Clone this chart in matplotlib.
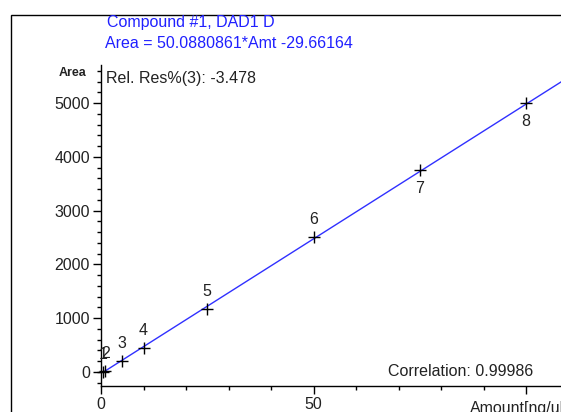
import matplotlib
matplotlib.use("Agg")
import matplotlib.pyplot as plt
import numpy as np
from matplotlib.patches import Rectangle
from matplotlib.ticker import MultipleLocator

# calibration levels
level_ids = ["1", "2", "3", "4", "5", "6", "7", "8"]
amounts = [0.5, 1.0, 5.0, 10.0, 25.0, 50.0, 75.0, 100.0]
areas = [-4.0, 21.0, 213.0, 440.0, 1171.0, 2509.0, 3755.0, 4992.0]
label_side = ["above"] * 6 + ["below"] * 2

slope = 50.0880861
intercept = -29.66164

W, H = 561, 412
FS = 11.5
plt.rcParams["font.family"] = ["Liberation Sans", "DejaVu Sans"]
fig = plt.figure(figsize=(W / 100, H / 100), dpi=100)

def px(x0, y0, x1, y1):
    # pixel box -> figure fraction [left, bottom, width, height]
    return [x0 / W, 1 - y1 / H, (x1 - x0) / W, (y1 - y0) / H]

ax = fig.add_axes(px(101, 65, 568.5, 386))
ax.set_xlim(0, 110)
ax.set_ylim(-260, 5707)

for s in ["top", "right"]:
    ax.spines[s].set_visible(False)
for s in ["left", "bottom"]:
    ax.spines[s].set_linewidth(1.0)
    ax.spines[s].set_color("black")

ax.xaxis.set_major_locator(MultipleLocator(50))
ax.xaxis.set_minor_locator(MultipleLocator(10))
ax.yaxis.set_major_locator(MultipleLocator(1000))
ax.yaxis.set_minor_locator(MultipleLocator(200))
ax.tick_params(which="major", direction="out", length=6, width=1,
               labelsize=FS, labelcolor="#222222", pad=2)
ax.tick_params(which="minor", direction="out", length=3, width=1)
ax.set_xticks([0, 50, 100])
ax.set_xticklabels(["0", "50", ""])

# fit line
xf = np.array([amounts[0], 110])
ax.plot(xf, slope * xf + intercept, color="#3030ff", lw=1.0, clip_on=False)

# calibration points
ax.plot(amounts, areas, ls="none", marker="+", ms=9, mew=1.0, color="black",
        clip_on=False, zorder=3)
for lid, a, r, side in zip(level_ids, amounts, areas, label_side):
    dy = 12.5 if side == "above" else -13
    ax.annotate(lid, (a, r), xytext=(0, dy), textcoords="offset points",
                ha="center", va="center", fontsize=FS, color="#222222")

ax.text(0.925, 0.045, "Correlation: 0.99986", transform=ax.transAxes,
        ha="right", va="center", fontsize=FS, color="#222222")

# header texts
fig.text(107 / W, 1 - 23 / H, "Compound #1, DAD1 D", fontsize=FS,
         color="#2020ff", va="center", ha="left")
fig.text(105 / W, 1 - 44 / H, "Area = 50.0880861*Amt -29.66164", fontsize=FS,
         color="#2020ff", va="center", ha="left")
fig.text(106 / W, 1 - 78 / H, "Rel. Res%(3): -3.478", fontsize=FS,
         color="#222222", va="center", ha="left")
fig.text(86 / W, 1 - 73 / H, "Area", fontsize=9, fontweight="bold",
         color="#222222", va="center", ha="right")
fig.text(470 / W, 1 - 408 / H, "Amount[ng/ul]", fontsize=FS,
         color="#222222", va="center", ha="left")

# outer frame
fig.patches.append(Rectangle((11 / W, -0.1), 1.2, 1 - 15 / H + 0.1,
                             transform=fig.transFigure, fill=False,
                             lw=1.0, ec="black"))

fig.savefig("out.png", dpi=100)
